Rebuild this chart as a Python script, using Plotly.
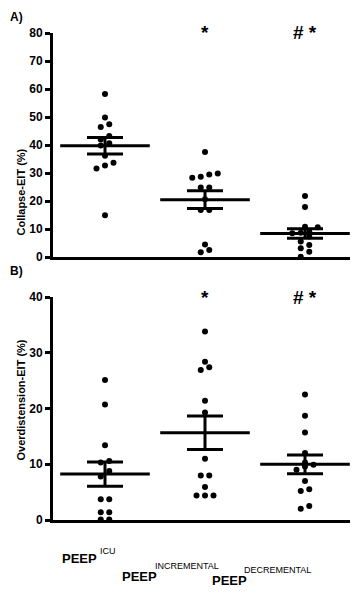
import numpy as np
import plotly.graph_objects as go

# ---------------- data ----------------
categories = ["PEEP ICU", "PEEP INCREMENTAL", "PEEP DECREMENTAL"]
tick_main = ["PEEP", "PEEP", "PEEP"]
tick_sub = ["ICU", "INCREMENTAL", "DECREMENTAL"]

collapse_icu = [58.2, 49.8, 47.4, 46.4, 43.2, 42.0, 40.6, 39.8, 36.2, 33.7, 32.7, 31.6, 14.9]
collapse_inc = [37.5, 29.8, 29.5, 28.7, 28.3, 24.8, 24.8, 20.6, 16.8, 16.8, 4.5, 2.5, 1.7]
collapse_dec = [21.8, 17.9, 10.8, 10.6, 9.0, 8.7, 8.5, 7.3, 5.5, 4.3, 3.1, 1.9, 0.1]

overdist_icu = [25.1, 20.7, 13.4, 10.6, 10.3, 8.8, 7.8, 3.7, 3.7, 1.4, 1.4, 0.1, 0.1]
overdist_inc = [33.8, 28.4, 27.4, 26.9, 21.4, 19.3, 11.0, 8.0, 8.0, 5.9, 4.4, 4.4, 4.4]
overdist_dec = [22.5, 18.7, 15.7, 12.0, 10.3, 9.9, 9.6, 9.0, 7.0, 5.5, 5.2, 2.5, 2.0]

collapse_marks = ["", "*", "# *"]
overdist_marks = ["", "*", "# *"]

FONT = "Arial, Liberation Sans, sans-serif"
OFF = 8                      # default page (body) margin of the html page
VW, VH = 358, 610            # window size
W, H = VW - OFF, VH - OFF    # figure size
x_left_px, x_right_px = 53, 357   # target pixels in the window
top_px = (33, 257)
bot_px = (297, 520)
xr = [-0.52, 2.52]
px_per_x = (x_right_px - x_left_px) / (xr[1] - xr[0])
dot_d = 6.0


def px(xp):
    return (xp - OFF) / W


def py(yp):
    return 1 - (yp - OFF) / H


def swarm(values, px_per_unit):
    """Arrange dots in centred rows (dot-plot style) - returns x offsets in axis units."""
    vals = np.asarray(values, float)
    order = np.argsort(vals)
    thr = dot_d / px_per_unit
    step = 8.5 / px_per_x
    offs = np.zeros(len(vals))
    rows, cur = [], []
    for idx in order:
        if cur and vals[idx] - vals[cur[0]] >= thr:
            rows.append(cur)
            cur = []
        cur.append(idx)
    if cur:
        rows.append(cur)
    for r in rows:
        n = len(r)
        for k, idx in enumerate(r):
            offs[idx] = (k - (n - 1) / 2) * step
    return offs


fig = go.Figure()


def add_panel(groups, xa, ya, ymax, pxrange):
    ppu = (pxrange[1] - pxrange[0]) / ymax
    means, sems = [], []
    for i, g in enumerate(groups):
        g = np.asarray(g, float)
        offs = swarm(g, ppu)
        fig.add_trace(go.Scatter(
            x=i + offs, y=g, mode="markers", xaxis=xa, yaxis=ya,
            marker=dict(color="black", size=dot_d), cliponaxis=False,
            showlegend=False, hoverinfo="y"))
        means.append(g.mean())
        sems.append(g.std(ddof=1) / np.sqrt(len(g)))
    fig.add_trace(go.Scatter(
        x=list(range(len(groups))), y=means, mode="markers", xaxis=xa, yaxis=ya,
        marker=dict(symbol="line-ew", size=64, color="black",
                    line=dict(color="black", width=3)),
        error_y=dict(type="data", array=sems, symmetric=True, color="black",
                     thickness=3, width=18),
        cliponaxis=False, showlegend=False, hoverinfo="y"))


add_panel([collapse_icu, collapse_inc, collapse_dec], "x", "y", 80, top_px)
add_panel([overdist_icu, overdist_inc, overdist_dec], "x2", "y2", 40, bot_px)

# significance marks
for marks, xa, ya, ytop in ((collapse_marks, "x", "y", 80), (overdist_marks, "x2", "y2", 40)):
    for i, m in enumerate(marks):
        if m:
            fig.add_annotation(x=i, y=ytop, xref=xa, yref=ya, text=f"<b>{m}</b>",
                               showarrow=False, font=dict(family=FONT, size=19, color="black"),
                               yanchor="middle", yshift=0)

# panel labels
fig.add_annotation(x=0, y=1, xref="paper", yref="paper", text="<b>A)</b>",
                   showarrow=False, xanchor="left", yanchor="top",
                   font=dict(family=FONT, size=12, color="black"))
fig.add_annotation(x=0, y=py(271), xref="paper", yref="paper", text="<b>B)</b>",
                   showarrow=False, xanchor="left", yanchor="middle",
                   font=dict(family=FONT, size=12, color="black"))

# y-axis titles
fig.add_annotation(x=px(12), y=py((top_px[0] + top_px[1]) / 2 + 2), xref="paper", yref="paper",
                   text="<b>Collapse-EIT (%)</b>", textangle=-90, showarrow=False,
                   font=dict(family=FONT, size=11, color="black"))
fig.add_annotation(x=px(12), y=py((bot_px[0] + bot_px[1]) / 2 - 8), xref="paper", yref="paper",
                   text="<b>Overdistension-EIT (%)</b>", textangle=-90, showarrow=False,
                   font=dict(family=FONT, size=11, color="black"))

# category labels: "PEEP" and its smaller subscript, stepped down-left like the slanted labels
# (offsets in px relative to the category tick / axis line)
main_off = [(-26, 38), (-66, 56), (-76, 60)]
sub_off = [(3, 31), (-18, 46), (-28, 50)]
for i, (a, b) in enumerate(zip(tick_main, tick_sub)):
    fig.add_annotation(x=i, y=0, xref="x2", yref="y2", text=f"<b>{a}</b>",
                       showarrow=False, xanchor="center", yanchor="middle",
                       xshift=main_off[i][0], yshift=-main_off[i][1],
                       font=dict(family=FONT, size=13, color="black"))
    fig.add_annotation(x=i, y=0, xref="x2", yref="y2", text=b,
                       showarrow=False, xanchor="center", yanchor="middle",
                       xshift=sub_off[i][0], yshift=-sub_off[i][1],
                       font=dict(family=FONT, size=9, color="black"))

xdom = [px(x_left_px), min(1.0, px(x_right_px))]
axis_common = dict(showline=True, linecolor="black", linewidth=3, showgrid=False,
                   zeroline=False, automargin=False)
ytick_common = dict(ticks="outside", ticklen=5, tickwidth=3, tickcolor="black",
                    tickfont=dict(family=FONT, size=12, color="black", weight="bold"))

fig.update_layout(
    width=W, height=H, margin=dict(l=0, r=0, t=0, b=0),
    paper_bgcolor="white", plot_bgcolor="white",
    xaxis=dict(domain=xdom, anchor="y", range=xr, showticklabels=False, ticks="",
               **axis_common),
    yaxis=dict(domain=[py(top_px[1]), py(top_px[0])], anchor="x", range=[0, 80],
               dtick=10, **ytick_common, **axis_common),
    xaxis2=dict(domain=xdom, anchor="y2", range=xr, showticklabels=False, ticks="",
                **axis_common),
    yaxis2=dict(domain=[py(bot_px[1]), py(bot_px[0])], anchor="x2", range=[0, 40],
                dtick=10, **ytick_common, **axis_common),
)

fig.write_html("out.html")
